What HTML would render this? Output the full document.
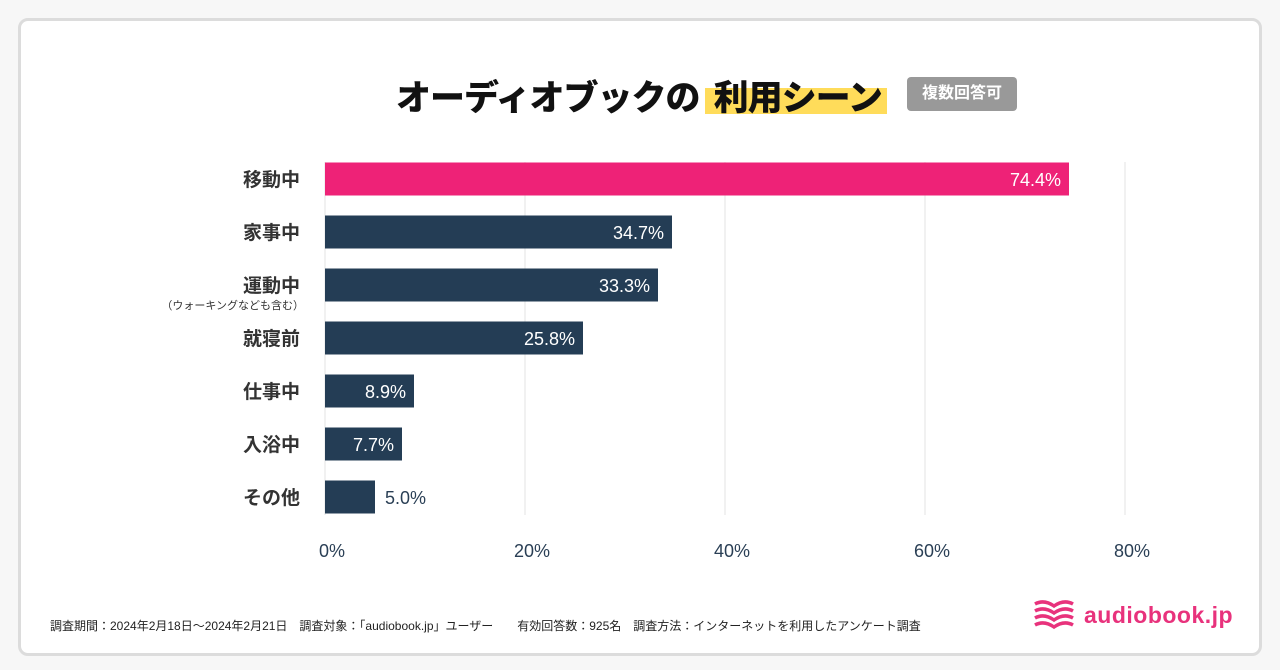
<!DOCTYPE html>
<html><head><meta charset="utf-8"><style>
body{margin:0;width:1280px;height:670px;background:#f7f7f7;font-family:"Liberation Sans","Noto Sans CJK JP",sans-serif;overflow:hidden}
.card{position:absolute;left:18px;top:18px;width:1238px;height:632px;background:#fff;border:3px solid #dcdcdc;border-radius:10px}
.t{position:absolute;white-space:nowrap}
</style></head><body>
<div class="card"></div>
<div class="t" style="left:705px;top:88px;width:182px;height:26px;background:#ffdc5a"></div>
<div class="t" style="left:396px;top:70px;font-size:35px;font-weight:900;color:#111;letter-spacing:-1px">オーディオブックの<span style="margin-left:14px">利用シーン</span></div>
<div class="t" style="left:907px;top:77px;width:110px;height:34px;background:#999;border-radius:4px;color:#fff;font-size:16px;font-weight:bold;text-align:center;line-height:34px">複数回答可</div>
<svg id="chart" width="1280" height="670" style="position:absolute;left:0;top:0"></svg>
<div class="t" style="left:50px;top:617px;font-size:12px;color:#222">調査期間：2024年2月18日〜2024年2月21日　調査対象：「audiobook.jp」ユーザー　　有効回答数：925名　調査方法：インターネットを利用したアンケート調査</div>
<svg class="t" style="left:1033px;top:600px" width="42" height="32">
<g fill="none" stroke="#e8327c" stroke-width="3.5"><path d="M2 4 Q11 -1 21 6 Q31 -1 40 4"/><path d="M2 11 Q11 6 21 13 Q31 6 40 11"/><path d="M2 18 Q11 13 21 20 Q31 13 40 18"/><path d="M2 25 Q11 20 21 27 Q31 20 40 25"/></g></svg>
<div class="t" style="left:1084px;top:602px;font-size:23px;font-weight:bold;color:#e8327c;letter-spacing:0.5px">audiobook.jp</div>
<script>
const categories=["移動中","家事中","運動中","就寝前","仕事中","入浴中","その他"];
const values=[74.4,34.7,33.3,25.8,8.9,7.7,5.0];
const ticks=[0,20,40,60,80];
const svg=document.getElementById('chart');const NS="http://www.w3.org/2000/svg";
const x=v=>325+v*10;const y=i=>179+i*53;
function mk(t,a){const e=document.createElementNS(NS,t);for(const k in a)e.setAttribute(k,a[k]);svg.appendChild(e);return e;}
ticks.forEach(t=>{
 if(t>0){const l=mk('line',{x1:x(t),x2:x(t),y1:162,y2:515,stroke:'#e3e3e3','stroke-width':1});
 
 }
 const tx=mk('text',{x:x(t)+7,y:557,'font-size':18,fill:'#2a3f55','text-anchor':'middle'});tx.textContent=t+'%';
 
 
});
mk('line',{x1:325,x2:325,y1:162,y2:515,stroke:'#e3e3e3'});
categories.forEach((c,i)=>{
 const r=mk('rect',{x:x(0),y:y(i)-16.5,width:x(values[i])-x(0),height:33,fill:i==0?'#ee2277':'#243d55'});
 
 
 const inside=values[i]>7;
 const v=mk('text',{x:inside?x(values[i])-8:x(values[i])+10,y:y(i)+7,'font-size':18,fill:inside?'#fff':'#2a3f55','text-anchor':inside?'end':'start'});
 v.textContent=values[i].toFixed(1)+'%';
 
 
 const l=mk('text',{x:300,y:y(i)+7,'font-size':19,'font-weight':'bold',fill:'#333','text-anchor':'end'});l.textContent=c;
 
 
});
const s=mk('text',{x:304,y:309,'font-size':11,fill:'#333','text-anchor':'end'});s.textContent='（ウォーキングなども含む）';


</script>
</body></html>
